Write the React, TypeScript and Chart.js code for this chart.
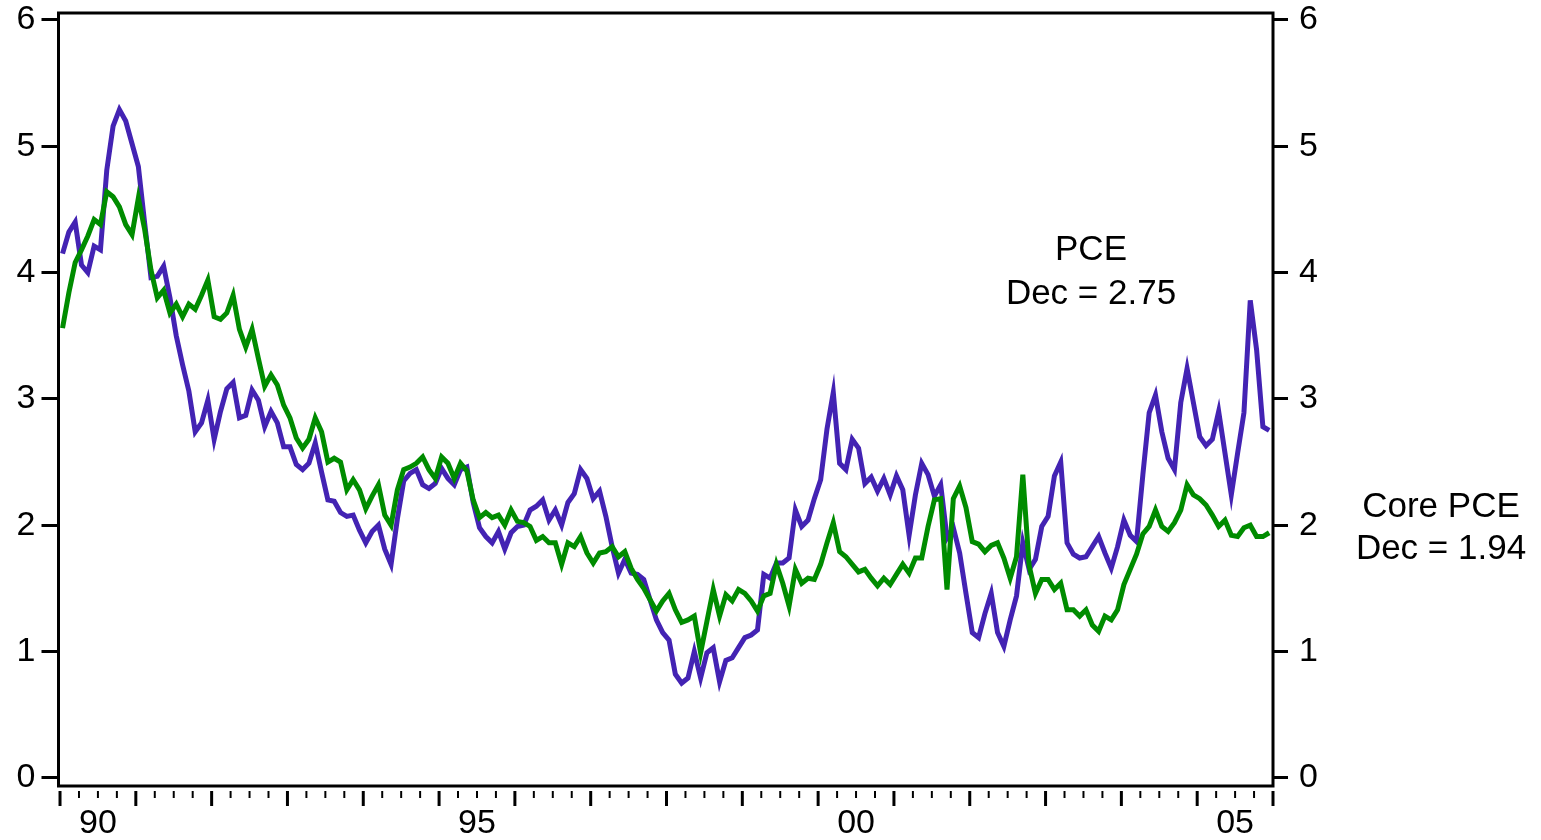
import { useEffect, useRef } from 'react';
import { Chart, registerables } from 'chart.js';

Chart.register(...registerables);

// Twelve-month percent change, monthly, January 1990 through December 2005
const pce: number[] = [
  4.15, 4.32, 4.40, 4.06, 4.00, 4.21, 4.18, 4.81, 5.16, 5.29,
  5.20, 5.02, 4.84, 4.39, 3.96, 3.97, 4.05, 3.80, 3.50, 3.27,
  3.06, 2.74, 2.81, 2.99, 2.68, 2.90, 3.08, 3.13, 2.85, 2.87,
  3.07, 2.99, 2.78, 2.90, 2.81, 2.62, 2.62, 2.48, 2.44, 2.49,
  2.65, 2.42, 2.20, 2.19, 2.10, 2.07, 2.08, 1.96, 1.86, 1.95,
  2.00, 1.81, 1.69, 2.05, 2.35, 2.41, 2.44, 2.32, 2.29, 2.33,
  2.45, 2.37, 2.32, 2.44, 2.46, 2.18, 1.98, 1.91, 1.86, 1.95,
  1.81, 1.94, 1.99, 2.00, 2.12, 2.15, 2.20, 2.04, 2.12, 2.00,
  2.18, 2.25, 2.44, 2.37, 2.21, 2.27, 2.07, 1.83, 1.62, 1.73,
  1.62, 1.61, 1.57, 1.41, 1.25, 1.15, 1.09, 0.82, 0.75, 0.79,
  1.00, 0.79, 0.99, 1.03, 0.76, 0.93, 0.95, 1.03, 1.11, 1.13,
  1.17, 1.61, 1.58, 1.70, 1.70, 1.74, 2.12, 1.99, 2.04, 2.21,
  2.36, 2.76, 3.05, 2.49, 2.44, 2.68, 2.61, 2.33, 2.38, 2.27,
  2.37, 2.24, 2.39, 2.28, 1.92, 2.24, 2.49, 2.40, 2.23, 2.32,
  1.90, 1.98, 1.78, 1.46, 1.15, 1.11, 1.30, 1.46, 1.15, 1.04,
  1.25, 1.44, 1.86, 1.65, 1.73, 1.99, 2.07, 2.39, 2.50, 1.86,
  1.77, 1.74, 1.75, 1.83, 1.91, 1.78, 1.66, 1.83, 2.04, 1.92,
  1.87, 2.40, 2.89, 3.03, 2.74, 2.53, 2.44, 2.97, 3.24, 2.97,
  2.70, 2.63, 2.68, 2.90, 2.57, 2.24, 2.57, 2.89, 3.78, 3.39,
  2.78, 2.75,
];

const corePce: number[] = [
  3.56, 3.84, 4.08, 4.18, 4.29, 4.42, 4.38, 4.64, 4.60, 4.52,
  4.38, 4.30, 4.59, 4.34, 4.02, 3.80, 3.86, 3.68, 3.75, 3.65,
  3.75, 3.71, 3.82, 3.94, 3.65, 3.63, 3.68, 3.82, 3.55, 3.41,
  3.55, 3.32, 3.10, 3.19, 3.11, 2.95, 2.85, 2.69, 2.61, 2.68,
  2.85, 2.74, 2.50, 2.53, 2.50, 2.28, 2.36, 2.28, 2.13, 2.23,
  2.32, 2.08, 2.00, 2.28, 2.44, 2.46, 2.49, 2.54, 2.44, 2.37,
  2.54, 2.49, 2.37, 2.49, 2.43, 2.20, 2.06, 2.10, 2.06, 2.08,
  2.00, 2.12, 2.03, 2.02, 1.99, 1.88, 1.91, 1.86, 1.86, 1.69,
  1.86, 1.83, 1.91, 1.78, 1.70, 1.78, 1.79, 1.83, 1.75, 1.79,
  1.66, 1.57, 1.50, 1.41, 1.32, 1.40, 1.46, 1.33, 1.23, 1.25,
  1.28, 0.99, 1.24, 1.49, 1.28, 1.45, 1.40, 1.49, 1.46, 1.40,
  1.32, 1.44, 1.46, 1.69, 1.54, 1.36, 1.65, 1.54, 1.58, 1.57,
  1.69, 1.86, 2.02, 1.79, 1.75, 1.69, 1.63, 1.65, 1.58, 1.52,
  1.58, 1.53, 1.61, 1.69, 1.62, 1.74, 1.74, 1.99, 2.20, 2.21,
  1.49, 2.21, 2.31, 2.14, 1.87, 1.85, 1.79, 1.84, 1.86, 1.74,
  1.58, 1.75, 2.40, 1.68, 1.46, 1.57, 1.57, 1.49, 1.54, 1.33,
  1.33, 1.28, 1.33, 1.21, 1.16, 1.28, 1.25, 1.33, 1.53, 1.65,
  1.77, 1.93, 1.99, 2.12, 1.99, 1.95, 2.02, 2.12, 2.32, 2.24,
  2.21, 2.16, 2.08, 1.99, 2.04, 1.92, 1.91, 1.98, 2.00, 1.91,
  1.91, 1.94,
];

const startYear = 1990;
const endYear = 2006;
const labeledYears = [1990, 1995, 2000, 2005];
const yearLabels = ['90', '95', '00', '05'];
const valueTicks = [0, 1, 2, 3, 4, 5, 6];

const pceNote = ['PCE', `Dec = ${pce[pce.length - 1].toFixed(2)}`];
const coreNote = ['Core PCE', `Dec = ${corePce[corePce.length - 1].toFixed(2)}`];

const WIDTH = 1541;
const HEIGHT = 840;
const FONT_FAMILY = '"Liberation Sans", Arial, Helvetica, sans-serif';
const TICK_FONT_SIZE = 34;
const NOTE_FONT_SIZE = 35;
const PCE_COLOR = '#4323b3';
const CORE_COLOR = '#008c00';

// x values are months since January 1990; each observation sits inside its month
const MONTH_OFFSET = 0.4;
const toPoints = (values: number[]) => values.map((v, i) => ({ x: i + MONTH_OFFSET, y: v }));

const monthsSpan = (endYear - startYear) * 12;
const quarterTicks = Array.from({ length: monthsSpan / 3 + 1 }, (_, k) => ({ value: k * 3 }));

// Frame, quarterly date marks and the end-of-year notes
const framePlugin = {
  id: 'frameAndNotes',
  afterDraw(chart: any) {
    const { ctx, chartArea: a } = chart;
    const xs = chart.scales.x;
    ctx.save();
    ctx.strokeStyle = '#000';
    ctx.lineWidth = 3;
    ctx.strokeRect(a.left, a.top, a.right - a.left, a.bottom - a.top);

    xs.ticks.forEach((t: any) => {
      const major = t.value % 12 === 0;
      const px = xs.getPixelForValue(t.value);
      ctx.lineWidth = major ? 3 : 2;
      ctx.beginPath();
      ctx.moveTo(px, a.bottom + 5);
      ctx.lineTo(px, a.bottom + (major ? 20 : 12));
      ctx.stroke();
    });

    ctx.fillStyle = '#000';
    ctx.font = `${NOTE_FONT_SIZE}px ${FONT_FAMILY}`;
    ctx.textAlign = 'center';
    ctx.textBaseline = 'middle';
    pceNote.forEach((s, k) => ctx.fillText(s, 1091, 250 + k * 44));
    coreNote.forEach((s, k) => ctx.fillText(s, 1441, 507 + k * 42));
    ctx.restore();
  },
};

const noPad = (s: any) => {
  s.paddingTop = 0;
  s.paddingBottom = 0;
};

export default function App() {
  const canvasRef = useRef<HTMLCanvasElement | null>(null);

  useEffect(() => {
    const canvas = canvasRef.current;
    if (!canvas) return;
    const tickFont = { family: FONT_FAMILY, size: TICK_FONT_SIZE };

    const chart = new Chart(canvas, {
      type: 'line',
      data: {
        datasets: [
          {
            label: 'Core PCE',
            data: toPoints(corePce),
            borderColor: CORE_COLOR,
            borderWidth: 5,
            pointRadius: 0,
            tension: 0,
            fill: false,
          },
          {
            label: 'PCE',
            data: toPoints(pce),
            borderColor: PCE_COLOR,
            borderWidth: 5,
            pointRadius: 0,
            tension: 0,
            fill: false,
          },
        ],
      },
      options: {
        responsive: false,
        animation: false,
        devicePixelRatio: 1,
        layout: { padding: { top: 13, left: 0, right: 0, bottom: 0 } },
        plugins: { legend: { display: false }, tooltip: { enabled: false } },
        scales: {
          x: {
            type: 'linear',
            min: -0.24,
            max: monthsSpan,
            afterFit: (s: any) => {
              s.height = HEIGHT - 786;
              s.paddingLeft = 0;
              s.paddingRight = 0;
            },
            afterBuildTicks: (s: any) => { s.ticks = quarterTicks.map((t) => ({ ...t })); },
            grid: { display: false, drawTicks: false },
            border: { display: false },
            ticks: {
              autoSkip: false,
              maxRotation: 0,
              padding: 17,
              color: '#000',
              font: tickFont,
              callback: (v: any) => {
                const k = labeledYears.findIndex((y) => (y - startYear) * 12 + 6 === v);
                return k >= 0 ? yearLabels[k] : '';
              },
            },
          },
          y: {
            position: 'left',
            min: -0.065,
            max: 6.055,
            afterFit: (s: any) => {
              s.width = 58.5;
              noPad(s);
            },
            afterBuildTicks: (s: any) => { s.ticks = valueTicks.map((v) => ({ value: v })); },
            grid: { display: true, drawOnChartArea: false, drawTicks: true, tickLength: 17, tickWidth: 3, tickColor: '#000' },
            border: { display: false },
            ticks: { padding: 6, color: '#000', font: tickFont },
          },
          y2: {
            position: 'right',
            min: -0.065,
            max: 6.055,
            afterFit: (s: any) => {
              s.width = WIDTH - 1273;
              noPad(s);
            },
            afterBuildTicks: (s: any) => { s.ticks = valueTicks.map((v) => ({ value: v })); },
            grid: { display: true, drawOnChartArea: false, drawTicks: true, tickLength: 15, tickWidth: 3, tickColor: '#000' },
            border: { display: false },
            ticks: { padding: 11, color: '#000', font: tickFont },
          },
        },
      },
      plugins: [framePlugin],
    } as any);

    return () => chart.destroy();
  }, []);

  return (
    <div style={{ position: 'fixed', left: 0, top: 0, width: WIDTH, height: HEIGHT, background: '#fff' }}>
      <canvas ref={canvasRef} width={WIDTH} height={HEIGHT} />
    </div>
  );
}
